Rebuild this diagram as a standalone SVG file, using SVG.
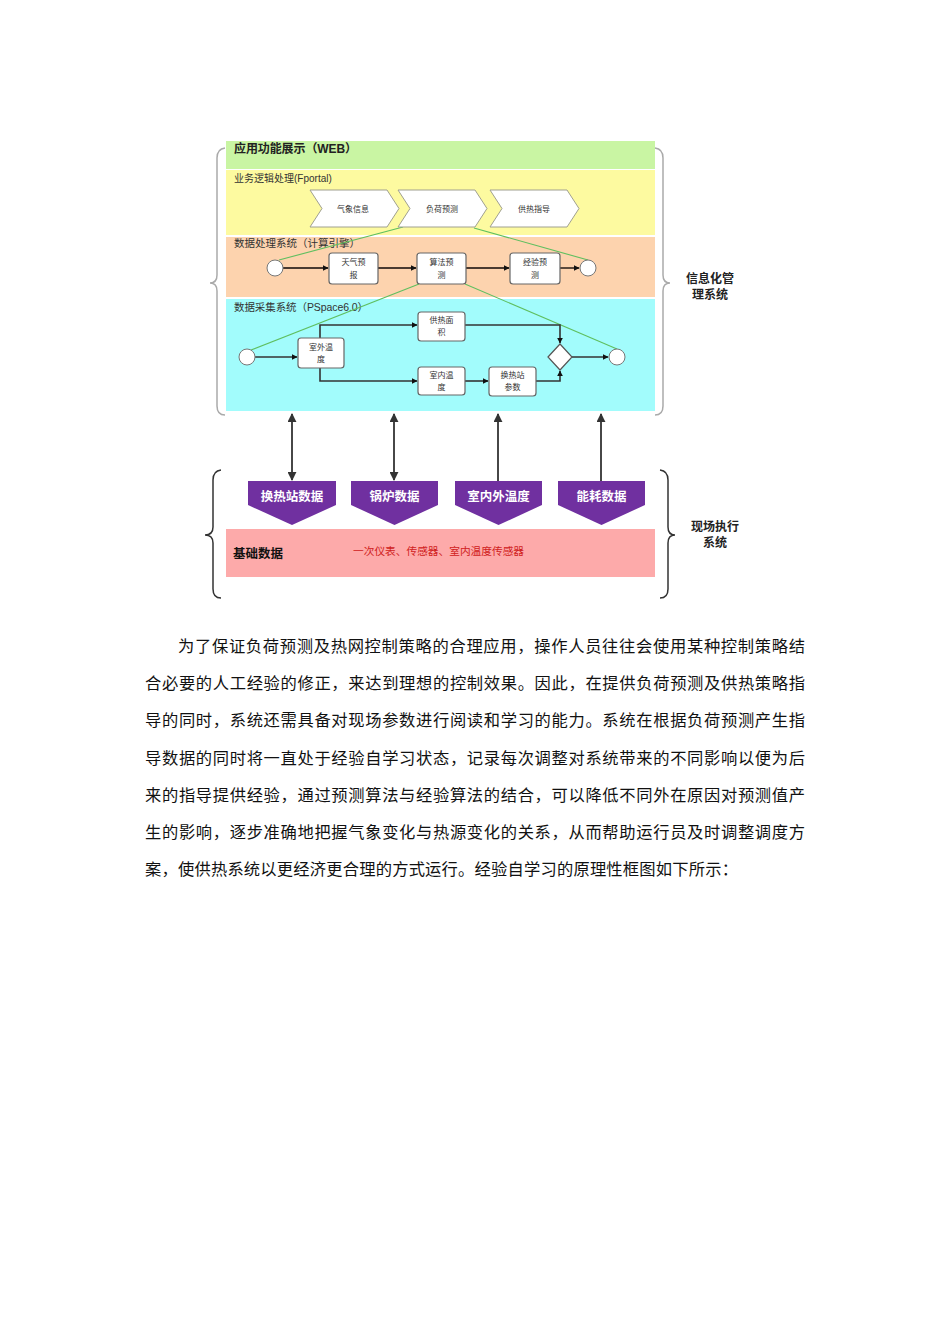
<svg xmlns="http://www.w3.org/2000/svg" width="950" height="1344" viewBox="0 0 950 1344">
<style>
.cn{font-family:"Liberation Sans","Noto Sans CJK SC",sans-serif}
.hd{font-size:12px;font-weight:bold;fill:#222}
.sub{font-size:10.5px;fill:#333}
.sm{font-size:8px;fill:#333;text-anchor:middle}
.box{fill:#fff;stroke:#666;stroke-width:1.2}
.chev{fill:#fff;stroke:#a0a090;stroke-width:1}
.circ{fill:#fff;stroke:#777;stroke-width:1}
.flow{fill:none;stroke:#333;stroke-width:1.6}
.ofl{fill:none;stroke:#4a3a30;stroke-width:1.8}
.grn{fill:none;stroke:#5fbf5f;stroke-width:1.1}
.big{fill:none;stroke:#333;stroke-width:1.8}
.brc{fill:none;stroke:#aaa;stroke-width:1.5}
.brc2{fill:none;stroke:#333;stroke-width:1.5}
.pent{fill:#7030a0}
.pt{font-size:12.5px;font-weight:bold;fill:#fff;text-anchor:middle}
.side{font-size:12px;font-weight:bold;fill:#222;text-anchor:middle}
.para{font-family:"Liberation Serif","Noto Sans CJK SC",serif;font-size:16.3px;fill:#111}
</style>
<defs>
<marker id="ah" viewBox="0 0 10 10" refX="9" refY="5" markerWidth="6" markerHeight="6" markerUnits="userSpaceOnUse" orient="auto-start-reverse">
<path d="M0,0 L10,5 L0,10 Z" fill="#111"/>
</marker>
<marker id="ahb" viewBox="0 0 10 10" refX="9" refY="5" markerWidth="9" markerHeight="9" markerUnits="userSpaceOnUse" orient="auto-start-reverse">
<path d="M0,0 L10,5 L0,10 Z" fill="#333"/>
</marker>
</defs>

<g id="bands">
<rect x="226" y="141" width="429" height="28" fill="#c9f5a3"/>
<rect x="226" y="170" width="429" height="65" fill="#fdfaa0"/>
<rect x="226" y="237" width="429" height="60" fill="#fdd3ae"/>
<rect x="226" y="299" width="429" height="112" fill="#a2fcfc"/>
<rect x="226" y="529" width="429" height="48" fill="#fdaaaa"/>
</g>

<g id="band-labels" class="cn">
<text class="hd" x="234" y="153" textLength="123" lengthAdjust="spacing">应用功能展示（WEB）</text>
<text class="sub" x="234" y="182" style="font-size:10px">业务逻辑处理(Fportal)</text>
<text class="sub" x="234" y="247" textLength="126" lengthAdjust="spacing">数据处理系统（计算引擎）</text>
<text class="sub" x="234" y="311" textLength="134" lengthAdjust="spacing">数据采集系统（PSpace6.0）</text>
<text x="233" y="558" style="font-size:12.5px;font-weight:bold;fill:#111">基础数据</text>
<text x="353" y="555" style="font-size:10.7px;fill:#d02020">一次仪表、传感器、室内温度传感器</text>
</g>

<g id="connectors">
<line class="grn" x1="403" y1="227" x2="279" y2="260"/>
<line class="grn" x1="474" y1="228" x2="588" y2="260"/>
<line class="grn" x1="419" y1="284" x2="251" y2="350"/>
<line class="grn" x1="465" y1="284" x2="617" y2="349"/>
<line class="ofl" x1="283" y1="268" x2="328" y2="268" marker-end="url(#ah)"/>
<line class="ofl" x1="378" y1="268" x2="416" y2="268" marker-end="url(#ah)"/>
<line class="ofl" x1="466" y1="268" x2="509" y2="268" marker-end="url(#ah)"/>
<line class="ofl" x1="560" y1="268" x2="579" y2="268" marker-end="url(#ah)"/>
<line class="flow" x1="255" y1="357" x2="297" y2="357" marker-end="url(#ah)"/>
<path class="flow" d="M320 338 V325 H417" marker-end="url(#ah)"/>
<path class="flow" d="M320 368 V381 H417" marker-end="url(#ah)"/>
<line class="flow" x1="465" y1="381" x2="488" y2="381" marker-end="url(#ah)"/>
<path class="flow" d="M465 325 H560 V343" marker-end="url(#ah)"/>
<path class="flow" d="M536 381 H560 V371" marker-end="url(#ah)"/>
<line class="flow" x1="572" y1="357" x2="608" y2="357" marker-end="url(#ah)"/>
<line class="big" x1="292" y1="414" x2="292" y2="480" marker-start="url(#ahb)" marker-end="url(#ahb)"/>
<line class="big" x1="394" y1="414" x2="394" y2="480" marker-start="url(#ahb)" marker-end="url(#ahb)"/>
<line class="big" x1="498" y1="481" x2="498" y2="414" marker-end="url(#ahb)"/>
<line class="big" x1="601" y1="481" x2="601" y2="414" marker-end="url(#ahb)"/>
</g>

<g id="chevrons" class="cn">
<g id="n-qixiang"><path class="chev" d="M310 190 H387 L399 208.5 L387 227 H310 L322 208.5 Z"/><text class="sm" x="353" y="211.5">气象信息</text></g>
<g id="n-fuhe"><path class="chev" d="M398 190 H475 L487 208.5 L475 227 H398 L410 208.5 Z"/><text class="sm" x="442" y="211.5">负荷预测</text></g>
<g id="n-gongre"><path class="chev" d="M490 190 H567 L579 208.5 L567 227 H490 L502 208.5 Z"/><text class="sm" x="534" y="211.5">供热指导</text></g>
</g>

<g id="calc" class="cn">
<g id="n-start1"><circle class="circ" cx="275" cy="268" r="8"/></g>
<g id="n-tianqi"><rect class="box" x="329" y="253" width="49" height="31" rx="3"/><text class="sm" x="353.5" y="265">天气预</text><text class="sm" x="353.5" y="278">报</text></g>
<g id="n-suanfa"><rect class="box" x="417" y="253" width="49" height="31" rx="3"/><text class="sm" x="441.5" y="265">算法预</text><text class="sm" x="441.5" y="278">测</text></g>
<g id="n-jingyan"><rect class="box" x="510" y="253" width="50" height="31" rx="3"/><text class="sm" x="535" y="265">经验预</text><text class="sm" x="535" y="278">测</text></g>
<g id="n-end1"><circle class="circ" cx="588" cy="268" r="8"/></g>
</g>

<g id="collect" class="cn">
<g id="n-start2"><circle class="circ" cx="247" cy="357" r="8"/></g>
<g id="n-shiwai"><rect class="box" x="298" y="338" width="46" height="30" rx="3"/><text class="sm" x="321" y="350">室外温</text><text class="sm" x="321" y="362">度</text></g>
<g id="n-mianji"><rect class="box" x="418" y="312" width="47" height="29" rx="3"/><text class="sm" x="441.5" y="323">供热面</text><text class="sm" x="441.5" y="335">积</text></g>
<g id="n-shinei"><rect class="box" x="418" y="367" width="47" height="28" rx="3"/><text class="sm" x="441.5" y="378">室内温</text><text class="sm" x="441.5" y="390">度</text></g>
<g id="n-huanre"><rect class="box" x="489" y="367" width="47" height="29" rx="3"/><text class="sm" x="512.5" y="378">换热站</text><text class="sm" x="512.5" y="390">参数</text></g>
<g id="n-gate"><path d="M548 357 L560 344 L572 357 L560 370 Z" fill="#fff" stroke="#555" stroke-width="1.2"/></g>
<g id="n-end2"><circle class="circ" cx="617" cy="357" r="8"/></g>
</g>

<g id="data" class="cn">
<g id="n-hrz"><path class="pent" d="M248 481 H336 V505 L292 525 L248 505 Z"/><text class="pt" x="292" y="501">换热站数据</text></g>
<g id="n-gl"><path class="pent" d="M351 481 H438 V505 L394.5 525 L351 505 Z"/><text class="pt" x="394.5" y="501">锅炉数据</text></g>
<g id="n-wd"><path class="pent" d="M455 481 H542 V505 L498.5 525 L455 505 Z"/><text class="pt" x="498.5" y="501">室内外温度</text></g>
<g id="n-nh"><path class="pent" d="M558 481 H645 V505 L601.5 525 L558 505 Z"/><text class="pt" x="601.5" y="501">能耗数据</text></g>
</g>

<g id="braces">
<path class="brc" d="M225 148 Q217 149 217 158 V275 Q217 283 210 283 Q217 283 217 291 V406 Q217 415 225 415"/>
<path class="brc" d="M655 148 Q663 149 663 158 V275 Q663 283 670 283 Q663 283 663 291 V406 Q663 415 655 415"/>
<path class="brc2" d="M221 470 Q213 471 213 480 V527 Q213 535 205 535 Q213 535 213 543 V589 Q213 598 221 598"/>
<path class="brc2" d="M660 470 Q668 471 668 480 V527 Q668 535 675 535 Q668 535 668 543 V589 Q668 598 660 598"/>
</g>

<g id="side-labels" class="cn">
<text class="side" x="710" y="283">信息化管</text>
<text class="side" x="710" y="299">理系统</text>
<text class="side" x="715" y="531">现场执行</text>
<text class="side" x="715" y="547">系统</text>
</g>

<g id="paragraph" class="para">
<text x="178" y="652" textLength="627" lengthAdjust="spacing">为了保证负荷预测及热网控制策略的合理应用，操作人员往往会使用某种控制策略结</text>
<text x="145" y="689" textLength="660" lengthAdjust="spacing">合必要的人工经验的修正，来达到理想的控制效果。因此，在提供负荷预测及供热策略指</text>
<text x="145" y="726" textLength="660" lengthAdjust="spacing">导的同时，系统还需具备对现场参数进行阅读和学习的能力。系统在根据负荷预测产生指</text>
<text x="145" y="764" textLength="660" lengthAdjust="spacing">导数据的同时将一直处于经验自学习状态，记录每次调整对系统带来的不同影响以便为后</text>
<text x="145" y="801" textLength="660" lengthAdjust="spacing">来的指导提供经验，通过预测算法与经验算法的结合，可以降低不同外在原因对预测值产</text>
<text x="145" y="838" textLength="660" lengthAdjust="spacing">生的影响，逐步准确地把握气象变化与热源变化的关系，从而帮助运行员及时调整调度方</text>
<text x="145" y="875" textLength="593" lengthAdjust="spacing">案，使供热系统以更经济更合理的方式运行。经验自学习的原理性框图如下所示：</text>
</g>
</svg>
